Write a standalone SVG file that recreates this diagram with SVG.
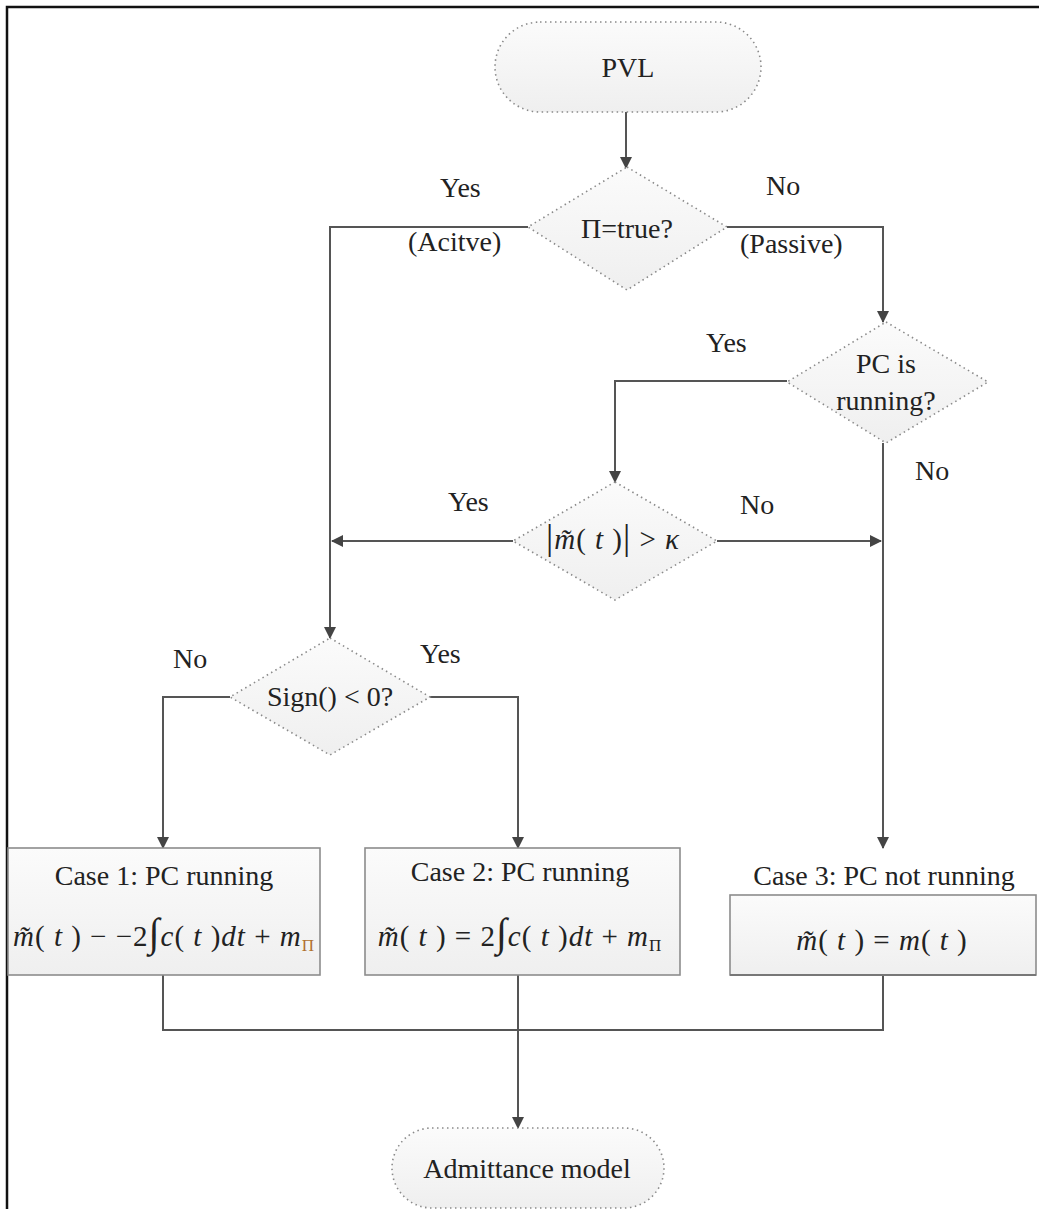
<svg xmlns="http://www.w3.org/2000/svg" width="1039" height="1209" viewBox="0 0 1039 1209">
  <style>
    text { font-family: "Liberation Serif", "Times New Roman", serif; fill: #222; }
    .shape { fill: url(#soft); stroke: #8a8a8a; stroke-width: 1.6; stroke-dasharray: 1.5 3.5; }
    .box { fill: url(#soft); stroke: #8c8c8c; stroke-width: 1.6; }
    .lbl { font-size: 28px; }
    .mid { text-anchor: middle; }
    .math { font-size: 29px; text-anchor: middle; letter-spacing: 1px; }
    .it { font-style: italic; }
    .wire { fill: none; stroke: #555; stroke-width: 2; }
  </style>
  <defs>
    <linearGradient id="soft" x1="0" y1="0" x2="0" y2="1">
      <stop offset="0" stop-color="#fbfbfb"/>
      <stop offset="1" stop-color="#efefef"/>
    </linearGradient>
    <marker id="arrow" viewBox="0 0 12 12" refX="11" refY="6" markerWidth="12" markerHeight="12" markerUnits="userSpaceOnUse" orient="auto">
      <path d="M0,0 L12,6 L0,12 Z" fill="#444"/>
    </marker>
  </defs>

  <rect width="1039" height="1209" fill="#ffffff"/>
  <!-- frame (top and left edges) -->
  <path d="M7,1209 V7 H1039" fill="none" stroke="#111" stroke-width="2.5"/>

  <!-- connectors -->
  <g id="connectors">
    <path class="wire" d="M626,112 V168" marker-end="url(#arrow)"/>
    <path class="wire" d="M528,227 H330 V638" marker-end="url(#arrow)"/>
    <path class="wire" d="M727,227 H883 V322" marker-end="url(#arrow)"/>
    <path class="wire" d="M787,381 H615 V482" marker-end="url(#arrow)"/>
    <path class="wire" d="M883,443 V848" marker-end="url(#arrow)"/>
    <path class="wire" d="M513,541 H332" marker-end="url(#arrow)"/>
    <path class="wire" d="M717,541 H881" marker-end="url(#arrow)"/>
    <path class="wire" d="M230,697 H163 V848" marker-end="url(#arrow)"/>
    <path class="wire" d="M430,697 H518 V848" marker-end="url(#arrow)"/>
    <path class="wire" d="M163,975 V1030 H883 V975"/>
    <path class="wire" d="M518,975 V1128" marker-end="url(#arrow)"/>
  </g>

  <!-- branch labels -->
  <g id="labels">
    <text class="lbl" x="440" y="197">Yes</text>
    <text class="lbl" x="766" y="195">No</text>
    <text class="lbl" x="408" y="251">(Acitve)</text>
    <text class="lbl" x="740" y="253">(Passive)</text>
    <text class="lbl" x="706" y="352">Yes</text>
    <text class="lbl" x="915" y="480">No</text>
    <text class="lbl" x="448" y="511">Yes</text>
    <text class="lbl" x="740" y="514">No</text>
    <text class="lbl" x="173" y="668">No</text>
    <text class="lbl" x="420" y="663">Yes</text>
  </g>

  <g id="start">
    <rect class="shape" x="495" y="22" width="266" height="90" rx="45"/>
    <text class="lbl mid" x="628" y="77">PVL</text>
  </g>

  <g id="decision-pi">
    <polygon class="shape" points="627,167 727,227 627,290 528,227"/>
    <text class="lbl mid" x="627" y="238">Π=true?</text>
  </g>

  <g id="decision-pc">
    <polygon class="shape" points="886,322 988,382 886,443 787,382"/>
    <text class="lbl mid" x="886" y="373">PC is</text>
    <text class="lbl mid" x="886" y="410">running?</text>
  </g>

  <g id="decision-threshold">
    <polygon class="shape" points="615,482 717,541 615,600 513,541"/>
    <text class="math" x="613" y="549"><tspan font-size="36">|</tspan><tspan class="it">m̃</tspan>( <tspan class="it">t</tspan> )<tspan font-size="36">|</tspan> &gt; <tspan class="it">κ</tspan></text>
  </g>

  <g id="decision-sign">
    <polygon class="shape" points="330,638 430,697 330,755 230,697"/>
    <text class="lbl mid" x="330" y="706">Sign() &lt; 0?</text>
  </g>

  <g id="case-1">
    <rect class="box" x="8" y="848" width="312" height="127"/>
    <text class="lbl mid" x="164" y="885">Case 1: PC running</text>
    <text class="math" x="164" y="946" letter-spacing="0" font-size="28"><tspan class="it">m̃</tspan>( <tspan class="it">t</tspan> ) − −2<tspan font-size="40">∫</tspan><tspan class="it">c</tspan>( <tspan class="it">t</tspan> )<tspan class="it">dt</tspan> + <tspan class="it">m</tspan><tspan font-size="17" dy="5" fill="#b07030">Π</tspan></text>
  </g>

  <g id="case-2">
    <rect class="box" x="365" y="848" width="315" height="127"/>
    <text class="lbl mid" x="520" y="881">Case 2: PC running</text>
    <text class="math" x="520" y="946"><tspan class="it">m̃</tspan>( <tspan class="it">t</tspan> ) = 2<tspan font-size="40">∫</tspan><tspan class="it">c</tspan>( <tspan class="it">t</tspan> )<tspan class="it">dt</tspan> + <tspan class="it">m</tspan><tspan font-size="17" dy="5">Π</tspan></text>
  </g>

  <g id="case-3">
    <rect class="box" x="730" y="895" width="306" height="80" stroke="none"/>
    <text class="lbl mid" x="884" y="885">Case 3: PC not running</text>
    <text class="math" x="882" y="950"><tspan class="it">m̃</tspan>( <tspan class="it">t</tspan> ) = <tspan class="it">m</tspan>( <tspan class="it">t</tspan> )</text>
    <line x1="730" y1="975" x2="1036" y2="975" stroke="#777" stroke-width="2"/>
  </g>

  <g id="end">
    <rect class="shape" x="392" y="1128" width="272" height="80" rx="40"/>
    <text class="lbl mid" x="527" y="1178">Admittance model</text>
  </g>
</svg>
